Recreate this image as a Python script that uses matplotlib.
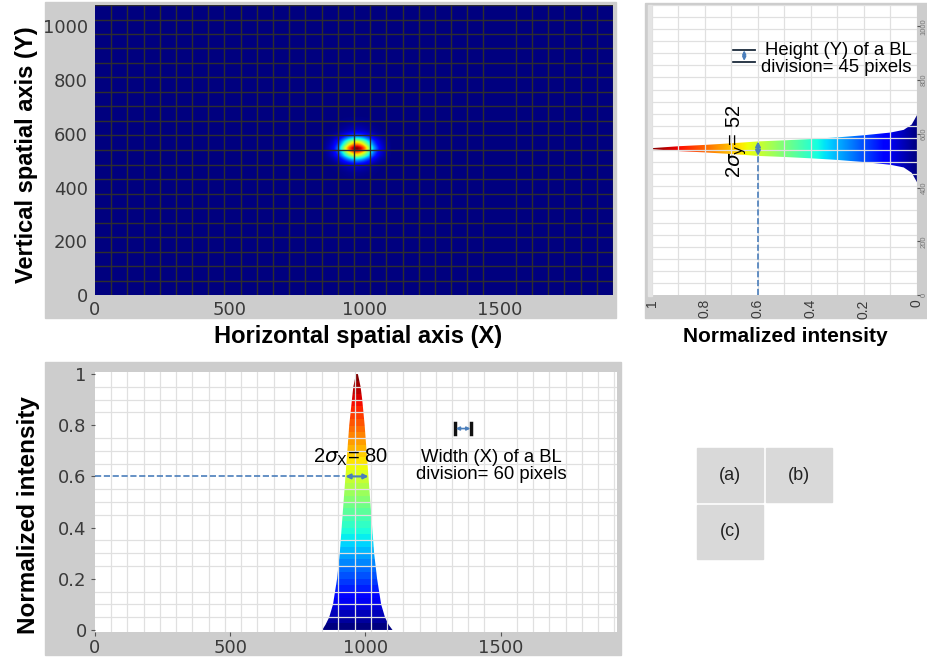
import numpy as np
import matplotlib
matplotlib.use('Agg')
import matplotlib.pyplot as plt
from matplotlib.patches import Rectangle, Polygon
import matplotlib.ticker as ticker

# kuvan mitat pikseleinä
W, H = 928, 658

# vaakaprofiili (c): intensiteettitasot ja reunat (x, pikseliä)
c_levels = [0.0, 0.02, 0.05, 0.1, 0.2, 0.3, 0.4, 0.5, 0.6, 0.7, 0.8, 0.9, 0.95, 1.0]
c_left = [840, 852, 866, 880, 895, 905, 912, 919, 926, 933, 940, 950, 955, 965]
c_right = [1100, 1086, 1072, 1058, 1043, 1032, 1025, 1018, 1011, 1004, 997, 988, 982, 972]

# pystyprofiili (b): intensiteettitasot ja reunat (y, pikseliä)
b_levels = [1.0, 0.9, 0.8, 0.7, 0.6, 0.5, 0.4, 0.3, 0.2, 0.1, 0.05, 0.02, 0.0]
b_upper = [547, 554, 559, 565, 572, 576, 581, 587, 595, 605, 615, 635, 670]
b_lower = [543, 536, 531, 525, 518, 514, 509, 503, 495, 485, 475, 455, 420]

xticks_pos = [0, 500, 1000, 1500]
yticks_a = [0, 200, 400, 600, 800, 1000]
int_ticks = [0, 0.2, 0.4, 0.6, 0.8, 1.0]
int_labels = ['0', '0.2', '0.4', '0.6', '0.8', '1']
panel_labels = ['(a)', '(b)', '(c)']

plt.rcParams['font.family'] = ['Liberation Sans', 'DejaVu Sans']
tickcol = '#3a3a3a'
bluecol = '#4a7ebb'


def box(x0, y0, x1, y1):
    return [x0 / W, 1 - y1 / H, (x1 - x0) / W, (y1 - y0) / H]


def frame(x0, y0, x1, y1, col='#cdcdcd'):
    fig.add_artist(Rectangle((x0 / W, 1 - y1 / H), (x1 - x0) / W, (y1 - y0) / H,
                             transform=fig.transFigure, color=col, zorder=-5))


def ptext(x, y, s, **kw):
    fig.text(x / W, 1 - y / H, s, **kw)


fig = plt.figure(figsize=(W / 100, H / 100), dpi=100)

frame(45, 2, 616, 318)
frame(645, 3, 928, 318)
frame(648, 5, 652, 296, col='#e4e4e4')
frame(45, 362, 621, 655)

# (a) säteen kuva profiileista
ax_a = fig.add_axes(box(95, 5, 613, 295))
xs = np.arange(0, 1920, 2)
ys = np.arange(0, 1080, 2)
px = c_left + c_right[::-1]
pI = c_levels + c_levels[::-1]
py = b_lower[::-1] + b_upper
pIy = b_levels[::-1] + b_levels
Ix = np.interp(xs, px, pI, left=0, right=0)
Iy = np.interp(ys, py, pIy, left=0, right=0)
kuva = np.outer(Iy, Ix)
ax_a.imshow(kuva, cmap='jet', vmin=0, vmax=1, extent=[0, 1920, 0, 1080],
            origin='lower', aspect='auto', interpolation='bilinear')
ax_a.set_xlim(0, 1920)
ax_a.set_ylim(0, 1080)
ax_a.set_xticks(xticks_pos)
ax_a.set_yticks(yticks_a)
ax_a.xaxis.set_minor_locator(ticker.MultipleLocator(60))
ax_a.yaxis.set_minor_locator(ticker.MultipleLocator(54))
ax_a.grid(which='minor', color='#2e2e2e', lw=1.0)
ax_a.tick_params(which='both', length=0, labelsize=13, labelcolor=tickcol)
ax_a.tick_params(axis='y', pad=5)
ax_a.tick_params(axis='x', pad=4)
for lab in ax_a.get_xticklabels() + ax_a.get_yticklabels():
    lab.set_family('DejaVu Sans')
for s in ax_a.spines.values():
    s.set_visible(False)

ptext(358, 336, 'Horizontal spatial axis (X)', fontsize=17, fontweight='bold',
      ha='center', va='center')
ptext(27, 155, 'Vertical spatial axis (Y)', fontsize=17, fontweight='bold',
      ha='center', va='center', rotation=90)

# (b) pystyprofiili
ax_b = fig.add_axes(box(652, 5, 917, 295))
ax_b.set_xlim(1, 0)
ax_b.set_ylim(0, 1080)
poly_b = Polygon(list(zip(b_levels, b_upper)) + list(zip(b_levels[::-1], b_lower[::-1])),
                 closed=True, facecolor='none', edgecolor='none')
ax_b.add_patch(poly_b)
grad_b = np.tile(np.linspace(0, 1, 256), (2, 1))
im_b = ax_b.imshow(grad_b, cmap='jet', vmin=0, vmax=1, extent=[0, 1, 0, 1080],
                   origin='lower', aspect='auto', zorder=1)
im_b.set_clip_path(poly_b)
ax_b.set_xticks(int_ticks)
ax_b.set_xticklabels(int_labels, rotation=90)
ax_b.yaxis.tick_right()
ax_b.set_yticks(yticks_a)
ax_b.set_yticklabels([str(v) for v in yticks_a], rotation=90, va='center', ha='left')
ax_b.xaxis.set_minor_locator(ticker.MultipleLocator(0.1))
ax_b.yaxis.set_minor_locator(ticker.MultipleLocator(45))
ax_b.set_axisbelow(False)
ax_b.grid(which='minor', color='#e0e0e0', lw=0.9, zorder=2)
ax_b.grid(which='major', axis='x', color='#e0e0e0', lw=0.9, zorder=2)
ax_b.tick_params(axis='x', which='both', length=0, labelsize=10, labelcolor=tickcol, pad=3)
ax_b.tick_params(axis='y', which='major', length=2, color='#555555', labelsize=5.5,
                 labelcolor='#777777', pad=0.5)
ax_b.tick_params(axis='y', which='minor', length=0)
for s in ax_b.spines.values():
    s.set_visible(False)

# mittaviivat (b)
ax_b.plot([0.6, 0.6], [0, b_lower[4]], ls='--', color=bluecol, lw=1.2, zorder=3)
ax_b.annotate('', xy=(0.6, b_upper[4]), xytext=(0.6, b_lower[4]),
              arrowprops=dict(arrowstyle='<|-|>', color=bluecol, lw=1.5,
                              mutation_scale=7, shrinkA=0, shrinkB=0), zorder=4)
ax_b.text(0.68, 574, r'2$\sigma_{\mathrm{y}}$= 52', rotation=90, fontsize=14.5,
          ha='center', va='center', zorder=5)
ax_b.plot([0.695, 0.61], [914, 914], color='#1a2a3a', lw=1.3)
ax_b.plot([0.695, 0.61], [869, 869], color='#1a2a3a', lw=1.3)
ax_b.annotate('', xy=(0.652, 911), xytext=(0.652, 872),
              arrowprops=dict(arrowstyle='<|-|>', color=bluecol, lw=1.2,
                              mutation_scale=5, shrinkA=0, shrinkB=0))
ax_b.text(0.02, 880, 'Height (Y) of a BL\ndivision= 45 pixels', fontsize=13.3,
          ha='right', va='center', linespacing=1.0, zorder=5)

ptext(785, 337, 'Normalized intensity', fontsize=15, fontweight='bold',
      ha='center', va='center')

# (c) vaakaprofiili
ax_c = fig.add_axes(box(95, 372, 617, 632))
ax_c.set_xlim(0, 1930)
ax_c.set_ylim(-0.008, 1.008)
poly_c = Polygon(list(zip(c_left, c_levels)) + list(zip(c_right[::-1], c_levels[::-1])),
                 closed=True, facecolor='none', edgecolor='none')
ax_c.add_patch(poly_c)
grad_c = np.tile(np.linspace(0, 1, 256), (2, 1)).T
im_c = ax_c.imshow(grad_c, cmap=plt.get_cmap('jet', 40), vmin=0, vmax=1,
                   extent=[0, 1930, 0, 1], origin='lower', aspect='auto', zorder=1)
im_c.set_clip_path(poly_c)
ax_c.set_xticks(xticks_pos)
ax_c.set_yticks(int_ticks)
ax_c.set_yticklabels(int_labels)
ax_c.xaxis.set_minor_locator(ticker.MultipleLocator(60))
ax_c.yaxis.set_minor_locator(ticker.MultipleLocator(0.05))
ax_c.set_axisbelow(False)
ax_c.grid(which='minor', color='#e0e0e0', lw=0.9, zorder=2)
ax_c.tick_params(which='major', length=3, color='#555555', labelsize=13,
                 labelcolor=tickcol)
ax_c.tick_params(axis='y', pad=3)
ax_c.tick_params(axis='x', pad=2)
ax_c.tick_params(which='minor', length=0)
for lab in ax_c.get_xticklabels() + ax_c.get_yticklabels():
    lab.set_family('DejaVu Sans')
for s in ax_c.spines.values():
    s.set_visible(False)

ax_c.plot([0, c_left[8]], [0.6, 0.6], ls='--', color=bluecol, lw=1.2, zorder=3)
ax_c.annotate('', xy=(c_right[8], 0.6), xytext=(c_left[8], 0.6),
              arrowprops=dict(arrowstyle='<|-|>', color=bluecol, lw=1.5,
                              mutation_scale=7, shrinkA=0, shrinkB=0), zorder=4)
ax_c.text(944, 0.675, r'2$\sigma_{\mathrm{X}}$= 80', fontsize=14.5,
          ha='center', va='center', zorder=5)
ax_c.plot([1330, 1330], [0.765, 0.81], color='#111111', lw=2.5)
ax_c.plot([1392, 1392], [0.765, 0.81], color='#111111', lw=2.5)
ax_c.annotate('', xy=(1388, 0.787), xytext=(1334, 0.787),
              arrowprops=dict(arrowstyle='<|-|>', color=bluecol, lw=1.2,
                              mutation_scale=5, shrinkA=0, shrinkB=0))
ax_c.text(1467, 0.64, 'Width (X) of a BL\ndivision= 60 pixels', fontsize=13.3,
          ha='center', va='center', linespacing=1.0, zorder=5)

ptext(29, 515, 'Normalized intensity', fontsize=17.5, fontweight='bold',
      ha='center', va='center', rotation=90)

# paneelien tunnisteet
laatikot = [(697, 448, 763, 502), (766, 448, 832, 502), (697, 505, 763, 559)]
for nimi, (x0, y0, x1, y1) in zip(panel_labels, laatikot):
    frame(x0, y0, x1, y1, col='#d9d9d9')
    ptext((x0 + x1) / 2, (y0 + y1) / 2, nimi, fontsize=13, ha='center',
          va='center', color='#222222')

plt.savefig('out.png', dpi=100)
